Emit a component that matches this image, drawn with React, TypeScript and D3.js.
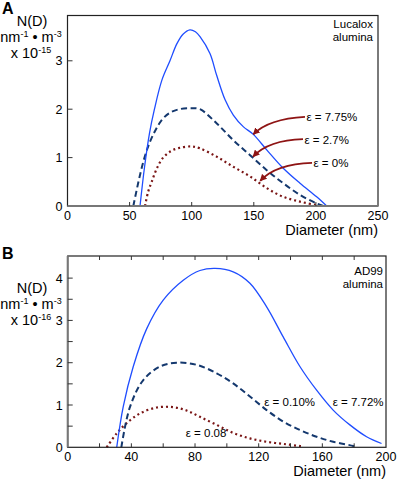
import React from "react";
import * as d3 from "d3";

// ---------- Panel A data (Lucalox alumina), N(D) x 10^-15 ----------
const A_X_TICKS = [0, 50, 100, 150, 200, 250];
const A_Y_TICKS = [0, 1, 2, 3];
const A_BLUE_X = [58.4, 62, 66, 70, 76, 82.5, 88, 93, 98.6, 103, 106.7, 114.7, 120.1, 126.8, 133.5, 141.5, 149.6, 160.4, 173.7, 187.2, 200.6, 208.7];
const A_BLUE_Y = [0, 0.8, 1.5, 2.0, 2.6, 3.0, 3.35, 3.55, 3.64, 3.6, 3.5, 3.15, 2.7, 2.2, 1.88, 1.64, 1.48, 1.16, 0.78, 0.47, 0.19, 0];
const A_DASH_X = [53, 58, 62, 66, 70.5, 76, 82, 90, 100, 106.7, 120, 133.5, 147, 160.4, 173.7, 187.2, 200, 206];
const A_DASH_Y = [0, 0.6, 1.0, 1.3, 1.55, 1.78, 1.92, 2.0, 2.02, 2.0, 1.71, 1.36, 1.05, 0.74, 0.47, 0.23, 0.06, 0];
const A_DOT_X = [62.4, 65, 67.8, 72, 77, 83, 90, 100, 106.7, 120, 133.5, 147, 160.4, 173.7, 187.2, 200.6, 206];
const A_DOT_Y = [0, 0.3, 0.5, 0.78, 1.0, 1.13, 1.2, 1.23, 1.19, 1.02, 0.81, 0.61, 0.37, 0.19, 0.09, 0.02, 0];
const A_LABELS = ["ε = 7.75%", "ε = 2.7%", "ε = 0%"];

// ---------- Panel B data (AD99 alumina), N(D) x 10^-16 ----------
const B_X_TICKS = [0, 40, 80, 120, 160, 200];
const B_Y_TICKS = [0, 1, 2, 3, 4];
const B_BLUE_X = [30.8, 34.9, 41.2, 49.6, 60, 72.6, 83.1, 92.6, 104, 114.5, 125, 135.4, 145.9, 156.4, 166.8, 177.3, 187.8, 197.2];
const B_BLUE_Y = [0, 0.96, 1.91, 2.8, 3.48, 3.95, 4.18, 4.23, 4.15, 3.88, 3.32, 2.61, 1.91, 1.35, 0.88, 0.53, 0.25, 0.09];
const B_DASH_X = [33.7, 39.1, 47.5, 58, 68.4, 81, 93.6, 104, 114.5, 125, 135.4, 145.9, 156.4, 166.8, 179.4, 181];
const B_DASH_Y = [0, 0.95, 1.59, 1.91, 2.0, 1.95, 1.75, 1.51, 1.2, 0.88, 0.61, 0.41, 0.25, 0.13, 0.03, 0];
const B_DOT_X = [24.5, 30.8, 37, 45.4, 55.9, 66, 74.7, 83.1, 93.6, 104, 114.5, 125, 135.4, 145.9, 148];
const B_DOT_Y = [0, 0.33, 0.57, 0.8, 0.94, 0.95, 0.87, 0.72, 0.53, 0.34, 0.21, 0.13, 0.08, 0.03, 0.02];
const B_LABELS = ["ε = 0.10%", "ε = 7.72%", "ε = 0.08"];

const BLUE = "#1f4dff";
const NAVY = "#14386e";
const MAROON = "#7a1515";
const ARROW = "#8e1414";
const FONT = "Liberation Sans, Arial, sans-serif";

type Series = { xs: number[]; ys: number[]; color: string; dash?: string; width: number };

function Panel(props: {
  letter: string;
  exponent: string;
  left: number; right: number; top: number; bottom: number;
  xMax: number; yMax: number;
  xTicks: number[]; xMinor: number[]; topTicks: number[];
  yTicks: number[]; yMinor: number[];
  series: Series[];
  material: string[];
  materialY: number;
  materialRight: number;
  headY: number;
  titleY: number;
  children?: (x: d3.ScaleLinear<number, number>, y: d3.ScaleLinear<number, number>) => React.ReactNode;
  leftAxisGray?: boolean;
  bottomAxisGray?: boolean;
}) {
  const x = d3.scaleLinear().domain([0, props.xMax]).range([props.left, props.right]);
  const y = d3.scaleLinear().domain([0, props.yMax]).range([props.bottom, props.top]);
  const line = (s: Series) =>
    d3.line<number>().x((_, i) => x(s.xs[i])).y((_, i) => y(s.ys[i])).curve(d3.curveCatmullRom.alpha(0.5))(s.ys) || "";
  const ff = { fontFamily: FONT };
  return (
    <g>
      <text x={2} y={props.headY} style={ff} fontWeight="bold" fontSize={16}>{props.letter}</text>
      <g style={ff} fontSize={14.5} textAnchor="middle">
        <text x={32} y={props.titleY}>N(D)</text>
        <text x={31} y={props.titleY + 16}>
          nm<tspan fontSize={9} dy={-5}>-1</tspan>
          <tspan dy={5}> • m</tspan>
          <tspan fontSize={9} dy={-5}>-3</tspan>
        </text>
        <text x={31} y={props.titleY + 31.5}>
          x 10<tspan fontSize={9} dy={-5}>{props.exponent}</tspan>
        </text>
      </g>
      {props.series.map((s, i) => (
        <path key={i} d={line(s)} fill="none" stroke={s.color} strokeWidth={s.width}
          strokeDasharray={s.dash} />
      ))}
      <rect x={props.left} y={props.top} width={props.right - props.left} height={props.bottom - props.top}
        fill="none" stroke="#222" strokeWidth={1.2} />
      {props.leftAxisGray && <line x1={props.left} x2={props.left} y1={props.top} y2={props.bottom} stroke="#777" strokeWidth={2} />}
      {props.bottomAxisGray && <line x1={props.left} x2={props.right} y1={props.bottom} y2={props.bottom} stroke="#777" strokeWidth={2} />}
      {props.xMinor.map((t) => (
        <line key={"bx" + t} x1={x(t)} x2={x(t)} y1={props.bottom} y2={props.bottom - 4} stroke="#333" strokeWidth={1} />
      ))}
      {props.topTicks.map((t) => (
        <line key={"tx" + t} x1={x(t)} x2={x(t)} y1={props.top} y2={props.top + 4} stroke="#333" strokeWidth={1} />
      ))}
      {props.yMinor.map((t) => (
        <line key={"ly" + t} x1={props.left} x2={props.left + 5} y1={y(t)} y2={y(t)} stroke="#333" strokeWidth={1} />
      ))}
      <g style={ff} fontSize={12.5}>
        {props.xTicks.map((t) => (
          <text key={"xl" + t} x={x(t)} y={props.bottom + 14} textAnchor="middle">{t}</text>
        ))}
        {props.yTicks.map((t) => (
          <text key={"yl" + t} x={props.left - 5} y={y(t) + 4.5} textAnchor="end">{t}</text>
        ))}
      </g>
      <text x={props.right} y={props.bottom + 28.5} textAnchor="end" style={ff} fontSize={14.5}>Diameter (nm)</text>
      <g style={ff} fontSize={11.5} textAnchor="end">
        <text x={props.materialRight} y={props.materialY}>{props.material[0]}</text>
        <text x={props.materialRight} y={props.materialY + 12.5}>{props.material[1]}</text>
      </g>
      {props.children && props.children(x, y)}
    </g>
  );
}

export default function App() {
  const arrowsA: { from: [number, number]; ctrl: [number, number]; to: [number, number]; label: string }[] = [
    { from: [191.2, 1.84], ctrl: [162, 1.8], to: [149.6, 1.48], label: A_LABELS[0] },
    { from: [189.6, 1.38], ctrl: [162, 1.36], to: [149.4, 1.02], label: A_LABELS[1] },
    { from: [196.9, 0.89], ctrl: [168, 0.87], to: [155.2, 0.52], label: A_LABELS[2] },
  ];
  return (
    <svg width={400} height={480} style={{ position: "absolute", left: 0, top: 0 }}>
      <defs>
        <marker id="ah" viewBox="0 0 10 10" refX={9} refY={5} markerWidth={7} markerHeight={7} orient="auto" markerUnits="userSpaceOnUse">
          <path d="M0,0 L10,5 L0,10 Z" fill={ARROW} />
        </marker>
      </defs>
      <rect width={400} height={480} fill="white" />
      <Panel
        letter="A" exponent="-15" headY={14} titleY={26}
        left={67.5} right={378} top={15.5} bottom={206}
        xMax={250} yMax={3.936}
        xTicks={A_X_TICKS} xMinor={[50, 100, 150, 200]} topTicks={[]}
        yTicks={A_Y_TICKS} yMinor={[1, 2, 3]}
        bottomAxisGray
        material={["Lucalox", "alumina"]} materialY={28} materialRight={373}
        series={[
          { xs: A_DOT_X, ys: A_DOT_Y, color: MAROON, dash: "2 3", width: 2.2 },
          { xs: A_DASH_X, ys: A_DASH_Y, color: NAVY, dash: "6 3.5", width: 2 },
          { xs: A_BLUE_X, ys: A_BLUE_Y, color: BLUE, width: 1.3 },
        ]}
      >
        {(x, y) => (
          <g>
            {arrowsA.map((a, i) => (
              <g key={i}>
                <path
                  d={`M${x(a.from[0])},${y(a.from[1])} Q${x(a.ctrl[0])},${y(a.ctrl[1])} ${x(a.to[0])},${y(a.to[1])}`}
                  fill="none" stroke={ARROW} strokeWidth={1.8} markerEnd="url(#ah)" />
                <text x={x(a.from[0]) + 1.5} y={y(a.from[1]) + 4.5} style={{ fontFamily: FONT }} fontSize={11.5}>{a.label}</text>
              </g>
            ))}
          </g>
        )}
      </Panel>
      <Panel
        letter="B" exponent="-16" headY={259} titleY={293}
        left={67.7} right={386} top={256} bottom={447.3}
        xMax={200} yMax={4.523}
        xTicks={B_X_TICKS} xMinor={[20, 40, 60, 80, 100, 120, 140, 160, 180]} topTicks={[20, 40, 60, 80, 100, 120, 140, 160, 180]}
        yTicks={B_Y_TICKS} yMinor={[0.5, 1, 1.5, 2, 2.5, 3, 3.5, 4]}
        leftAxisGray
        material={["AD99", "alumina"]} materialY={275} materialRight={383}
        series={[
          { xs: B_DOT_X, ys: B_DOT_Y, color: MAROON, dash: "2 3", width: 2.2 },
          { xs: B_DASH_X, ys: B_DASH_Y, color: NAVY, dash: "6 3.5", width: 2 },
          { xs: B_BLUE_X, ys: B_BLUE_Y, color: BLUE, width: 1.3 },
        ]}
      >
        {(x, y) => (
          <g style={{ fontFamily: FONT }} fontSize={11.5}>
            <text x={x(123.5)} y={y(0.98)}>{B_LABELS[0]}</text>
            <text x={x(166.5)} y={y(0.98)}>{B_LABELS[1]}</text>
            <text x={x(74.2)} y={y(0.25)}>{B_LABELS[2]}</text>
          </g>
        )}
      </Panel>
    </svg>
  );
}
